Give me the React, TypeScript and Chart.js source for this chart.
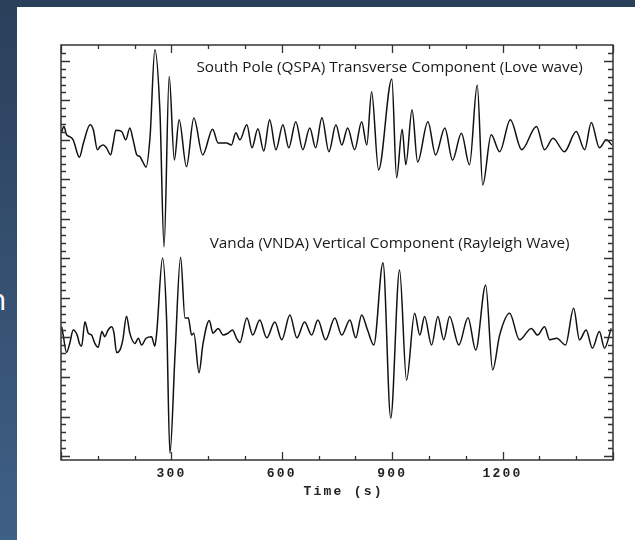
import React, { useEffect, useRef } from "react";
import { Chart, registerables } from "chart.js";

Chart.register(...registerables);

// ---------- data (time in s, amplitude in arbitrary display units) ----------
const topTimes = [
  1, 8, 15, 24, 33, 50, 61, 79, 88, 99, 106, 115, 124, 135, 142, 149, 165, 176, 187, 196,
  206, 214, 222, 231, 242, 255, 269, 280, 294, 308, 321, 341, 361, 385, 412, 427, 450, 463, 475, 486,
  505, 519, 535, 551, 567, 584, 603, 619, 638, 657, 676, 692, 709, 728, 747, 763, 779, 798, 817, 831,
  844, 863, 899, 912, 927, 937, 954, 969, 997, 1018, 1043, 1064, 1088, 1110, 1131, 1146, 1169, 1192, 1221, 1252,
  1292, 1314, 1337, 1368, 1400, 1423, 1441, 1463, 1482, 1497,
];
const topValues = [
  81.8, 83.4, 81.3, 80.8, 80.0, 75.6, 79.2, 83.8, 82.5, 77.5, 78.3, 78.7, 77.9, 76.2, 79.2, 82.4, 82.1, 80.0, 83.0, 80.0,
  76.2, 75.8, 74.5, 73.1, 80.8, 102.8, 86.8, 52.9, 96.0, 74.9, 85.1, 73.2, 85.5, 76.2, 82.7, 79.2, 79.2, 78.7, 81.8, 80.0,
  83.8, 78.0, 82.8, 77.2, 85.1, 77.5, 83.8, 78.0, 84.6, 77.5, 83.0, 78.0, 85.6, 77.0, 83.8, 78.7, 83.0, 77.5, 84.6, 78.7,
  92.2, 72.4, 95.4, 70.4, 82.7, 73.7, 87.6, 74.4, 84.6, 76.2, 83.0, 74.9, 81.7, 73.7, 93.9, 68.6, 81.3, 77.0, 85.1, 77.5,
  83.4, 77.5, 80.4, 77.0, 82.1, 77.5, 84.4, 78.0, 80.0, 78.7,
];

const bottomTimes = [
  2, 6, 15, 24, 33, 44, 50, 56, 65, 74, 83, 92, 101, 111, 119, 128, 138, 144, 151, 160,
  168, 178, 187, 201, 210, 219, 231, 246, 255, 260, 276, 287, 296, 310, 325, 337, 346, 355, 361, 375,
  386, 403, 413, 427, 441, 454, 466, 477, 486, 505, 521, 540, 559, 581, 600, 622, 641, 662, 681, 698,
  719, 744, 763, 785, 801, 817, 833, 850, 875, 896, 920, 939, 961, 975, 988, 1007, 1024, 1040, 1056, 1081,
  1106, 1127, 1154, 1173, 1192, 1219, 1246, 1278, 1295, 1314, 1328, 1347, 1371, 1393, 1409, 1427, 1444, 1463, 1477, 1495,
];
const bottomValues = [
  32.7, 30.6, 26.2, 28.6, 31.9, 30.6, 28.5, 27.8, 34.0, 31.1, 30.6, 28.5, 27.5, 31.5, 30.2, 31.9, 32.7, 31.1, 26.2, 26.8,
  29.4, 35.4, 31.1, 28.5, 29.8, 28.1, 29.8, 30.2, 27.8, 31.1, 50.1, 34.4, 0.7, 26.0, 50.3, 34.9, 34.9, 30.6, 31.1, 21.1,
  28.5, 34.3, 31.1, 32.3, 30.6, 31.1, 31.9, 29.8, 28.7, 34.9, 30.6, 34.4, 29.9, 33.9, 29.4, 35.7, 29.9, 33.9, 30.6, 34.4,
  29.4, 34.9, 30.6, 34.4, 29.9, 35.7, 31.9, 28.1, 48.9, 9.6, 47.1, 19.2, 36.1, 30.6, 35.3, 28.1, 35.3, 29.4, 35.3, 28.1,
  35.0, 26.8, 43.3, 21.8, 30.6, 36.1, 29.4, 32.3, 30.6, 32.7, 29.4, 29.8, 28.1, 37.4, 29.4, 31.9, 27.3, 31.5, 27.3, 32.3,
];

const xTickValues = [0, 100, 200, 300, 400, 500, 600, 700, 800, 900, 1000, 1100, 1200, 1300, 1400, 1500];
const xLabelValues = [300, 600, 900, 1200];
const yTickValues = [
  0, 2, 4, 6, 8, 10, 12, 14, 16, 18, 20, 22, 24, 26, 28, 30, 32, 34, 36, 38, 40, 42, 44, 46, 48, 50,
  52, 54, 56, 58, 60, 62, 64, 66, 68, 70, 72, 74, 76, 78, 80, 82, 84, 86, 88, 90, 92, 94, 96, 98, 100, 102, 104,
];
const traceLabels = [
  "South Pole (QSPA) Transverse Component (Love wave)",
  "Vanda (VNDA) Vertical Component (Rayleigh Wave)",
];
const traceLabelAnchorsX = [893, 893];
const traceLabelAnchorsY = [98.4, 53.7];
const xTitle = "Time (s)";
const xTitleAnchorX = 768;
const xTitleAnchorY = -9.1;

const frameColor = "#333333";
const monoFont = "'Liberation Mono', monospace";

const framePlugin = {
  id: "framePlugin",
  beforeDraw(chart: any) {
    chart.ctx.letterSpacing = "2.2px";
  },
  afterDraw(chart: any) {
    const ctx = chart.ctx;
    const { left, right, top, bottom } = chart.chartArea;
    const xs = chart.scales.x;
    const ys = chart.scales.y;
    ctx.save();
    ctx.strokeStyle = frameColor;
    ctx.lineWidth = 1.5;
    ctx.strokeRect(left, top, right - left, bottom - top);
    ctx.lineWidth = 1.3;
    ctx.beginPath();
    xTickValues.forEach((v) => {
      const px = Math.round(xs.getPixelForValue(v)) + 0.5;
      const len = v % 300 === 0 ? 8 : 4;
      ctx.moveTo(px, bottom);
      ctx.lineTo(px, bottom - len);
      ctx.moveTo(px, top);
      ctx.lineTo(px, top + len);
    });
    yTickValues.forEach((v) => {
      const py = Math.round(ys.getPixelForValue(v)) + 0.5;
      if (py < top + 1 || py > bottom - 1) return;
      const len = v % 10 === 0 ? 9 : 5;
      ctx.moveTo(left, py);
      ctx.lineTo(left + len, py);
      ctx.moveTo(right, py);
      ctx.lineTo(right - len, py);
    });
    ctx.stroke();

    // axis title
    ctx.fillStyle = "#222";
    ctx.font = `bold 13px ${monoFont}`;
    ctx.textAlign = "center";
    ctx.textBaseline = "middle";
    ctx.fillText(xTitle, xs.getPixelForValue(xTitleAnchorX), ys.getPixelForValue(xTitleAnchorY));

    // trace labels
    ctx.letterSpacing = "0px";
    ctx.fillStyle = "#1a1a1a";
    ctx.font = "15.3px 'Open Sans'";
    traceLabels.forEach((t, i) => {
      ctx.fillText(t, xs.getPixelForValue(traceLabelAnchorsX[i]), ys.getPixelForValue(traceLabelAnchorsY[i]));
    });
    ctx.restore();
  },
};

export default function App() {
  const ref = useRef<HTMLCanvasElement | null>(null);
  useEffect(() => {
    if (!ref.current) return;
    const mk = (times: number[], vals: number[]) => times.map((t, i) => ({ x: t, y: vals[i] }));
    const chart = new Chart(ref.current, {
      type: "line",
      data: {
        datasets: [
          {
            data: mk(topTimes, topValues),
            borderColor: "#111",
            borderWidth: 1.5,
            pointRadius: 0,
            cubicInterpolationMode: "monotone",
          },
          {
            data: mk(bottomTimes, bottomValues),
            borderColor: "#111",
            borderWidth: 1.5,
            pointRadius: 0,
            cubicInterpolationMode: "monotone",
          },
        ],
      },
      options: {
        animation: false,
        responsive: false,
        maintainAspectRatio: false,
        layout: { padding: { left: 61, top: 45, right: 22, bottom: 40 } },
        plugins: { legend: { display: false }, tooltip: { enabled: false } },
        scales: {
          x: {
            type: "linear",
            min: 0,
            max: 1500,
            grid: { display: false, drawTicks: false },
            border: { display: false },
            afterBuildTicks: (s: any) => {
              s.ticks = xLabelValues.map((v) => ({ value: v }));
            },
            afterFit: (s: any) => {
              s.height = 40;
            },
            ticks: {
              padding: 6,
              maxRotation: 0,
              autoSkip: false,
              color: "#222",
              font: { family: monoFont, size: 13, weight: "bold" },
              callback: (v: any) => String(v),
            },
            title: { display: false },
          },
          y: { display: false, min: -1, max: 104 },
        },
      },
      plugins: [framePlugin],
    });
    return () => chart.destroy();
  }, []);

  return (
    <div
      style={{
        position: "fixed",
        left: 0,
        top: 0,
        width: 635,
        height: 540,
        background: "#ffffff",
        overflow: "hidden",
      }}
    >
      <div style={{ position: "absolute", left: 0, top: 0, width: 635, height: 7, background: "#2a3f5a" }} />
      <div
        style={{
          position: "absolute",
          left: 0,
          top: 0,
          width: 17,
          height: 540,
          overflow: "hidden",
          background: "linear-gradient(#2a3f5a, #3f6086)",
        }}
      >
        <span
          style={{
            position: "absolute",
            left: -12,
            top: 279,
            fontFamily: "'Open Sans', sans-serif",
            fontSize: 30,
            lineHeight: "40px",
            color: "#ffffff",
          }}
        >
          n
        </span>
      </div>
      <canvas ref={ref} width={635} height={540} style={{ position: "absolute", left: 0, top: 0, width: 635, height: 540 }} />
    </div>
  );
}
